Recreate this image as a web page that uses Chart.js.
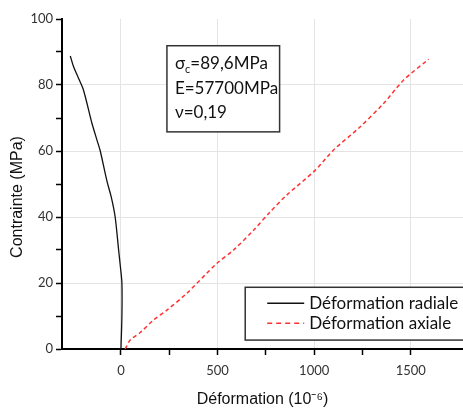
<!DOCTYPE html>
<html>
  <head>
    <title>Contrainte - déformation</title>
    <script src="https://cdn.jsdelivr.net/npm/chart.js"></script>
    <style>
      body { margin: 0; background: #fff; }
      #wrap { width: 463px; height: 408px; }
    </style>
  </head>
  <body>
    <div id="wrap">
      <canvas id="myChart" width="463" height="408"></canvas>
    </div>

    <script>
      // values (strain in 10^-6, stress in MPa)
      const radialStrain = [0, 5, 5, -3, -12, -30, -50, -73, -107, -124, -150, -194, -219, -245, -262];
      const radialStress = [0, 10, 20, 25, 30, 40, 46, 51, 60, 63.3, 68.4, 78.5, 82, 85.5, 88.8];

      const axialStrain = [22, 48, 100, 169, 238, 341, 497, 583, 686, 773, 859, 1006, 1100, 1230, 1359, 1463, 1592];
      const axialStress = [0, 2.7, 5, 8.8, 11.8, 16.9, 26, 30, 36, 41.6, 46.7, 54.2, 60.3, 66.9, 74.4, 81.5, 87.8];

      const seriesNames = ["Déformation radiale", "Déformation axiale"];
      const infoLines = ["=89,6MPa", "E=57700MPa", "ν=0,19"];
      const yTitle = "Contrainte (MPa)";

      const xMin = -305, xMax = 1770, yMin = 0, yMax = 100;

      function pairs(xs, ys) {
        let out = [];
        for (let i = 0; i < xs.length; i++) out.push({ x: xs[i], y: ys[i] });
        return out;
      }

      const boxes = {
        id: "boxes",
        afterDatasetsDraw(chart) {
          const ctx = chart.ctx;
          const xs = chart.scales.x, ys = chart.scales.y;
          ctx.save();

          // y title, a bit below the middle like the original
          ctx.save();
          ctx.translate(18, 197);
          ctx.rotate(-Math.PI / 2);
          ctx.font = "16px 'Liberation Sans'";
          ctx.fillStyle = "#111";
          ctx.textAlign = "center";
          ctx.textBaseline = "middle";
          ctx.fillText(yTitle, 0, 0);
          ctx.restore();

          // info box
          let l = xs.getPixelForValue(238), r = xs.getPixelForValue(821);
          let t = ys.getPixelForValue(91.9), b = ys.getPixelForValue(65.8);
          ctx.fillStyle = "#fff";
          ctx.fillRect(l, t, r - l, b - t);
          ctx.strokeStyle = "#333";
          ctx.lineWidth = 1.5;
          ctx.strokeRect(l, t, r - l, b - t);
          ctx.fillStyle = "#111";
          ctx.textBaseline = "middle";
          ctx.font = "17px Lato";
          let tx = l + 8;
          ctx.fillText("σ", tx, t + 18);
          let w = ctx.measureText("σ").width;
          ctx.font = "11px Lato";
          ctx.fillText("c", tx + w, t + 24);
          let wc = ctx.measureText("c").width;
          ctx.font = "17px Lato";
          ctx.fillText(infoLines[0], tx + w + wc, t + 18);
          ctx.fillText(infoLines[1], tx, t + 43);
          ctx.fillText(infoLines[2], tx, t + 67);

          // legend box
          l = xs.getPixelForValue(643);
          t = ys.getPixelForValue(18.7);
          b = ys.getPixelForValue(2.7);
          r = chart.chartArea.right + 5;
          ctx.fillStyle = "#fff";
          ctx.fillRect(l, t, r - l, b - t);
          ctx.strokeStyle = "#333";
          ctx.strokeRect(l, t, r - l, b - t);
          const rows = [t + 16, t + 36];
          chart.data.datasets.forEach((ds, i) => {
            ctx.beginPath();
            ctx.strokeStyle = ds.borderColor;
            ctx.lineWidth = 1.5;
            ctx.setLineDash(i === 1 ? [5, 4] : []);
            ctx.moveTo(l + 22, rows[i]);
            ctx.lineTo(l + 59, rows[i]);
            ctx.stroke();
            ctx.setLineDash([]);
            ctx.fillStyle = "#111";
            ctx.font = "17px Lato";
            ctx.fillText(ds.label, l + 64, rows[i]);
          });
          ctx.restore();
        },
      };

      const chartData = {
        datasets: [
          {
            label: seriesNames[0],
            data: pairs(radialStrain, radialStress),
            borderColor: "#111",
            borderWidth: 1.3,
            pointRadius: 0,
            tension: 0.3,
            fill: false,
          },
          {
            label: seriesNames[1],
            data: pairs(axialStrain, axialStress),
            borderColor: "#ff3030",
            borderWidth: 1.5,
            borderDash: [4, 3],
            pointRadius: 0,
            tension: 0.3,
            fill: false,
          },
        ],
      };

      const chartOptions = {
        responsive: false,
        animation: false,
        layout: { padding: { top: 19, right: 0, left: 0, bottom: 0 } },
        plugins: { legend: { display: false }, tooltip: { enabled: false } },
        scales: {
          x: {
            type: "linear",
            min: xMin,
            max: xMax,
            afterFit: (s) => {
              s.height = 59;
              s.paddingRight = 0;
              s.paddingLeft = 0;
            },
            border: { color: "#000", width: 2 },
            grid: {
              color: (c) => (c.tick && c.tick.value % 500 === 0 ? "#e4e4e4" : "transparent"),
              tickColor: (c) => (c.tick && c.tick.value % 250 === 0 ? "#000" : "transparent"),
              tickLength: 6,
              tickWidth: 1.5,
              lineWidth: 1,
            },
            ticks: {
              stepSize: 250,
              autoSkip: false,
              maxRotation: 0,
              padding: 8,
              color: "#333",
              font: { family: "Lato", size: 13 },
              callback: (v) => (v % 500 === 0 ? v : ""),
            },
            title: {
              display: true,
              text: "Déformation (10⁻⁶)",
              color: "#111",
              font: { family: "Liberation Sans", size: 16, lineHeight: 1 },
              padding: { top: 0, bottom: 0 },
            },
          },
          y: {
            min: yMin,
            max: yMax,
            afterFit: (s) => { s.width = 62; },
            border: { color: "#000", width: 2 },
            grid: {
              color: (c) => (c.tick && c.tick.value % 20 === 0 && c.tick.value !== 0 && c.tick.value !== 100 ? "#e4e4e4" : "transparent"),
              tickColor: "#000",
              tickLength: 6,
              tickWidth: 1.5,
            },
            ticks: {
              stepSize: 10,
              autoSkip: false,
              padding: 3,
              color: "#333",
              font: { family: "Lato", size: 13 },
              callback: (v) => (v % 20 === 0 ? v : ""),
            },
            title: { display: false },
          },
        },
      };

      const myChart = new Chart(document.getElementById("myChart"), {
        type: "line",
        data: chartData,
        options: chartOptions,
        plugins: [boxes],
      });
    </script>
  </body>
</html>
